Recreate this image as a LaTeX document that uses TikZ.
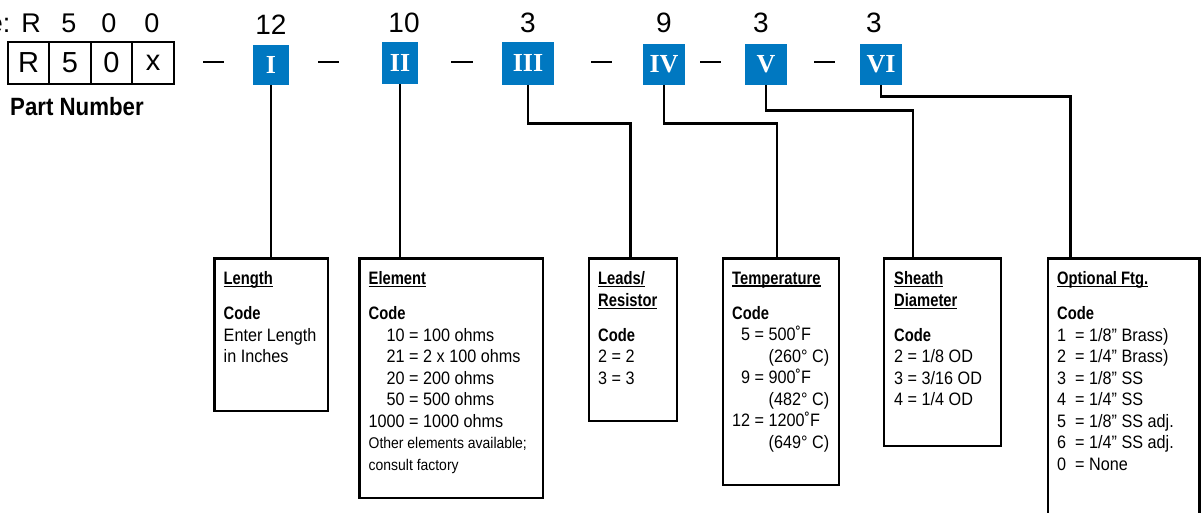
\documentclass[tikz,border=0pt]{standalone}
\usepackage{fontspec}
\setmainfont{Liberation Sans}
\newfontfamily\condfont[FakeStretch=0.9]{Liberation Sans}
\newfontfamily\condbf[FakeStretch=0.82]{Liberation Sans}
\newfontfamily\partfont[FakeStretch=0.89]{Liberation Sans}
\newfontfamily\romanfont{Liberation Serif}
\usetikzlibrary{positioning}
\definecolor{codeblue}{RGB}{0,120,193}
\newcommand{\cbf}[1]{{\condbf\bfseries #1}}
\newcommand{\uhead}[1]{\setbox0=\hbox{\condbf\bfseries #1}\rlap{\rule[-2.5pt]{\wd0}{1.2pt}}\box0}

\begin{document}
\begin{tikzpicture}[
  x=1pt, y=-1pt,
  hdr/.style={inner sep=0pt, font=\fontsize{27}{27}\selectfont},
  digit/.style={inner sep=0pt, font=\fontsize{28}{28}\selectfont},
  cell/.style={draw, line width=2.4pt, minimum width=41.5, minimum height=42, inner sep=0pt, outer sep=0pt, font=\fontsize{29}{29}\selectfont},
  codebox/.style={fill=codeblue, text=white, inner sep=0pt, outer sep=0pt, font=\romanfont\bfseries\fontsize{26}{26}\selectfont},
  sepbar/.style={line width=2.4pt},
  wire/.style={line width=2.6pt},
  frame/.style={draw, line width=2.6pt, anchor=north west, inner sep=0pt, outer sep=0pt},
  legtext/.style={anchor=north west, inner sep=0pt, align=left, font=\condfont\fontsize{18}{21.5}\selectfont},
]
\path[use as bounding box, clip] (0,0) rectangle (1201,512);

% === Example part number ===
\node[hdr, anchor=base east] (exlabel) at (10.5,32) {e:};
\node[hdr, anchor=base] (h1) at (31,32) {R};
\node[hdr, anchor=base] (h2) at (69,32) {5};
\node[hdr, anchor=base] (h3) at (109,32) {0};
\node[hdr, anchor=base] (h4) at (152,32) {0};

\node[cell] (r1) at (28.5,63) {R};
\node[cell, right=0pt of r1] (r2) {5};
\node[cell, right=0pt of r2] (r3) {0};
\node[cell, right=0pt of r3] (r4) {x};

\node[inner sep=0pt, anchor=base west, font=\partfont\bfseries\fontsize{25}{25}\selectfont] (partno) at (10,115) {Part Number};

% === Code fields ===
\node[codebox, minimum width=36, minimum height=40] (c1) at (271,65) {I};
\node[codebox, minimum width=36, minimum height=42] (c2) at (400,63) {II};
\node[codebox, minimum width=52, minimum height=43] (c3) at (528,63) {III};
\node[codebox, minimum width=42, minimum height=41] (c4) at (664,64.5) {IV};
\node[codebox, minimum width=42, minimum height=41] (c5) at (766,64.5) {V};
\node[codebox, minimum width=42, minimum height=41] (c6) at (881,64.5) {VI};

\node[digit, above=10pt of c1] (n1) {12};
\node[digit, above=9pt of c2, xshift=4pt] (n2) {10};
\node[digit, above=8.5pt of c3] (n3) {3};
\node[digit, above=11pt of c4] (n4) {9};
\node[digit, above=11pt of c5, xshift=-5pt] (n5) {3};
\node[digit, above=11pt of c6, xshift=-7pt] (n6) {3};

\foreach \xa/\xb in {203/224, 318/339, 451/473, 591/612, 700/721, 814/835}
  \draw[sepbar] (\xa,62) -- (\xb,62);

% === Legend boxes ===
\node[frame, minimum width=113.5, minimum height=152.5] (lenbox) at (214.5,258.5) {};
\node[frame, minimum width=183.5, minimum height=239.5] (elembox) at (359.5,258.5) {};
\node[frame, minimum width=88, minimum height=162.5] (leadbox) at (589,258.5) {};
\node[frame, minimum width=116, minimum height=226.5] (tempbox) at (723,258.5) {};
\node[frame, minimum width=117, minimum height=187.5] (sheathbox) at (884,258.5) {};
\node[frame, minimum width=151.5, minimum height=280] (ftgbox) at (1048,258.5) {};

\node[legtext] (lentext) at ([xshift=9pt, yshift=-13pt]lenbox.north west) {%
  \uhead{Length}\\[13.5pt]
  \cbf{Code}\\
  Enter Length\\
  in Inches};

\node[legtext] (elemtext) at ([xshift=9pt, yshift=-13pt]elembox.north west) {%
  \uhead{Element}\\[13.5pt]
  \cbf{Code}\\
  \phantom{10}10 = 100 ohms\\
  \phantom{10}21 = 2 x 100 ohms\\
  \phantom{10}20 = 200 ohms\\
  \phantom{10}50 = 500 ohms\\
  1000 = 1000 ohms\\
  {\fontsize{15.5}{21}\selectfont Other elements available;}\\
  {\fontsize{15.5}{21}\selectfont consult factory}};

\node[legtext] (leadtext) at ([xshift=9pt, yshift=-13pt]leadbox.north west) {%
  \uhead{Leads/}\\
  \uhead{Resistor}\\[13.5pt]
  \cbf{Code}\\
  2 = 2\\
  3 = 3};

\node[legtext] (temptext) at ([xshift=9pt, yshift=-13pt]tempbox.north west) {%
  \uhead{Temperature}\\[13.5pt]
  \cbf{Code}\\
  \phantom{1}5 = 500˚F\\
  \phantom{12 = }(260° C)\\
  \phantom{1}9 = 900˚F\\
  \phantom{12 = }(482° C)\\
  12 = 1200˚F\\
  \phantom{12 = }(649° C)};

\node[legtext] (sheathtext) at ([xshift=10pt, yshift=-13pt]sheathbox.north west) {%
  \uhead{Sheath}\\
  \uhead{Diameter}\\[13.5pt]
  \cbf{Code}\\
  2 = 1/8 OD\\
  3 = 3/16 OD\\
  4 = 1/4 OD};

\node[legtext] (ftgtext) at ([xshift=9pt, yshift=-13pt]ftgbox.north west) {%
  \uhead{Optional Ftg.}\\[13.5pt]
  \cbf{Code}\\
  1~~= 1/8” Brass)\\
  2~~= 1/4” Brass)\\
  3~~= 1/8” SS\\
  4~~= 1/4” SS\\
  5~~= 1/8” SS adj.\\
  6~~= 1/4” SS adj.\\
  0~~= None};

% === Connectors ===
\draw[wire] (c1.south) -- (c1.south |- lenbox.north);
\draw[wire] (c2.south) -- (c2.south |- elembox.north);
\draw[wire] (c3.south) -- ++(0,39) -| ([xshift=41.5pt]leadbox.north west);
\draw[wire] (c4.south) -- ++(0,38.5) -| ([xshift=54pt]tempbox.north west);
\draw[wire] (c5.south) -- ++(0,25.5) -| ([xshift=29pt]sheathbox.north west);
\draw[wire] (c6.south) -- ++(0,11.5) -| ([xshift=22.5pt]ftgbox.north west);

\end{tikzpicture}
\end{document}
